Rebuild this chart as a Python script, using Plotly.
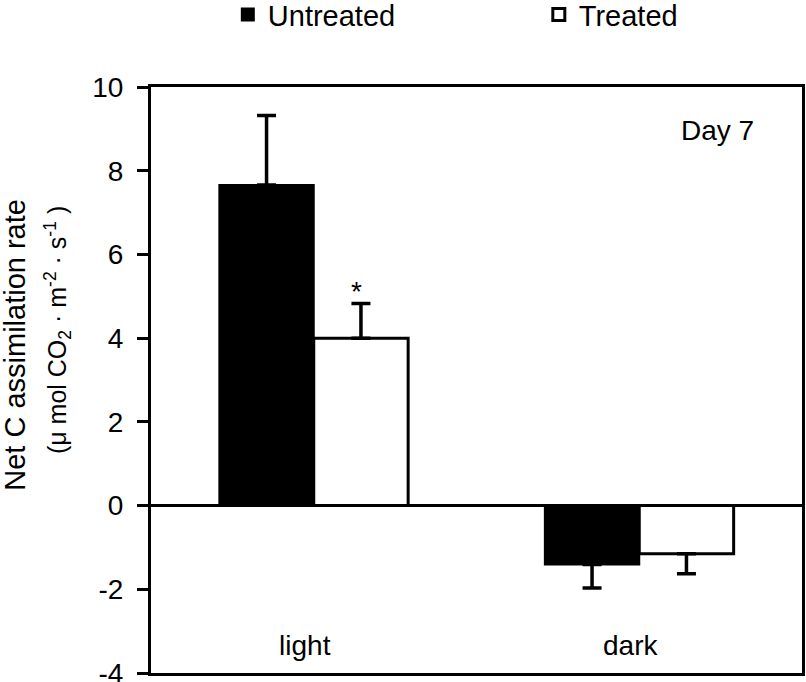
import plotly.graph_objects as go

categories = ["light", "dark"]
untreated = [7.66, -1.41]
untreated_err = [1.66, 0.56]
treated = [4.00, -1.15]
treated_err = [0.83, 0.48]
series_names = ["Untreated", "Treated"]
y_ticks = [-4, -2, 0, 2, 4, 6, 8, 10]
y_ticktext = ["-4", "-2", "0", "2", "4", "6", "8", "10"]

FONT = "Liberation Sans, Arial, sans-serif"

def err(vals, e):
    plus = [x if v >= 0 else 0 for v, x in zip(vals, e)]
    minus = [x if v < 0 else 0 for v, x in zip(vals, e)]
    return dict(type="data", symmetric=False, array=plus, arrayminus=minus,
                color="black", thickness=3.5, width=9.5)

fig = go.Figure()
fig.add_trace(go.Bar(x=categories, y=untreated, name=series_names[0],
                     marker=dict(color="black", line=dict(color="black", width=2)),
                     error_y=err(untreated, untreated_err)))
fig.add_trace(go.Bar(x=categories, y=treated, name=series_names[1],
                     marker=dict(color="white", line=dict(color="black", width=3)),
                     error_y=err(treated, treated_err)))

fig.update_layout(
    width=806, height=682,
    margin=dict(l=151, r=4, t=87, b=9, autoexpand=False),
    plot_bgcolor="white", paper_bgcolor="white",
    barmode="group", bargap=0.42, bargroupgap=0,
    font=dict(family=FONT, size=28, color="black"),
    showlegend=True,
    legend=dict(orientation="h", x=0.118, y=1.167, yref="paper", yanchor="top",
                xanchor="left", entrywidth=266, entrywidthmode="pixels",
                font=dict(size=29, color="black"), traceorder="normal",
                bgcolor="rgba(0,0,0,0)"),
    xaxis=dict(showline=True, linecolor="black", linewidth=3, mirror=True,
               ticks="", ticklabelposition="outside", ticklabelstandoff=-55,
               ticklabelshift=-9, tickfont=dict(size=28, color="black"),
               ticklabeloverflow="allow", range=[-0.5, 1.5]),
    yaxis=dict(range=[-4, 10], tickvals=y_ticks, ticktext=y_ticktext,
               showline=True, linecolor="black",
               linewidth=3, mirror=True, ticks="outside", ticklen=11, tickwidth=3,
               tickcolor="black", showgrid=False, zeroline=True, zerolinecolor="black",
               zerolinewidth=3, tickfont=dict(size=28, color="black"),
               ticklabelstandoff=8, ticklabeloverflow="allow"),
)

# y-axis title (two lines)
fig.add_annotation(x=-0.209, y=0.56, xref="paper", yref="paper",
                   text="Net C assimilation rate", textangle=-90, showarrow=False,
                   xanchor="center", yanchor="middle", font=dict(size=29))
fig.add_annotation(x=-0.143, y=0.585, xref="paper", yref="paper",
                   text="(μ mol CO<sub>2</sub> · m<sup>-2</sup> · s<sup>-1</sup> )",
                   textangle=-90, showarrow=False,
                   xanchor="center", yanchor="middle", font=dict(size=25))

fig.add_annotation(x=0.9295, y=0.926, xref="paper", yref="paper", text="Day 7",
                   showarrow=False, xanchor="right", yanchor="middle", font=dict(size=28))
fig.add_annotation(x="light", y=treated[0] + treated_err[0], xshift=43, yshift=-6,
                   text="*", showarrow=False, yanchor="bottom", font=dict(size=28))

# remove the default page margin so the figure fills the window exactly
fig.write_html("out.html", config={"displayModeBar": False},
               post_script="document.body.style.margin='0';")
